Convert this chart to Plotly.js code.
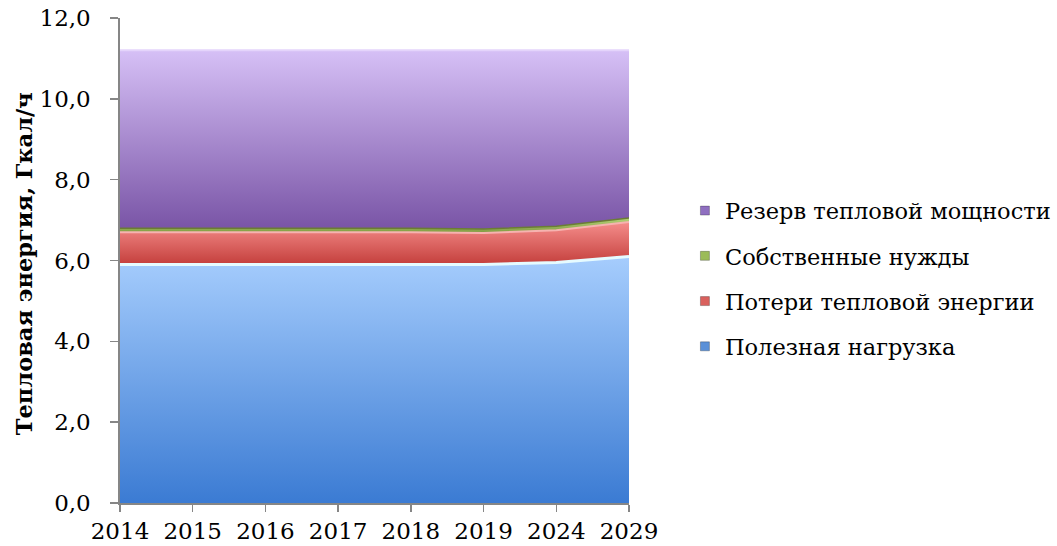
<!DOCTYPE html>
<html>
<head>
<meta charset="utf-8">
<script src="https://cdn.plot.ly/plotly-3.0.1.min.js"></script>
<style>html,body{margin:0;padding:0;background:#fff;}#chart{width:1057px;height:546px;}</style>
</head>
<body>
<div id="chart"></div>
<script>
// Data
const years = ['2014','2015','2016','2017','2018','2019','2024','2029'];
const usefulLoad = [5.9, 5.9, 5.9, 5.9, 5.9, 5.9, 5.95, 6.1];   // Полезная нагрузка
const heatLosses = [0.8, 0.8, 0.8, 0.8, 0.8, 0.78, 0.8, 0.85];  // Потери тепловой энергии
const ownNeeds   = [0.1, 0.1, 0.1, 0.1, 0.1, 0.1, 0.1, 0.1];    // Собственные нужды
const reserve    = [4.4, 4.4, 4.4, 4.4, 4.4, 4.42, 4.35, 4.15]; // Резерв тепловой мощности
const names = ['Полезная нагрузка','Потери тепловой энергии','Собственные нужды','Резерв тепловой мощности'];
const yTicks = [0, 2, 4, 6, 8, 10, 12];
const yTickLabels = ['0,0', '2,0', '4,0', '6,0', '8,0', '10,0', '12,0'];
const yTitle = 'Тепловая энергия, Гкал/ч';

const xIdx = years.map((_, i) => i);
const font = 'DejaVu Serif, Liberation Serif, serif';
// invisible trailing character keeps the labels away from the axis, as in the reference
const pad = '<span style="color:rgba(0,0,0,0)">0</span>';

function area(y, name, cBottom, cTop, lineColor, lineWidth) {
  return {
    type: 'scatter', mode: 'lines', x: xIdx, y: y, name: name,
    stackgroup: 'one', showlegend: false, hoverinfo: 'skip',
    line: {color: lineColor, width: lineWidth, shape: 'linear'},
    fillgradient: {type: 'vertical', colorscale: [[0, cBottom], [1, cTop]]}
  };
}
function legendItem(name, color, grp) {
  return {
    type: 'scatter', mode: 'markers', x: [null], y: [null], name: name,
    legendgroup: grp, showlegend: true,
    marker: {symbol: 'square', size: 9, color: color, line: {color: 'rgba(0,0,0,0.25)', width: 1}}
  };
}

const traces = [
  area(usefulLoad, names[0], '#3b7bd3', '#a6cdfd', '#e6fbff', 3),
  area(heatLosses, names[1], '#c43f3c', '#f58d8b', '#f6b3b0', 2),
  area(ownNeeds, names[2], '#7f9a3f', '#b6d47a', '#6b7d35', 1.5),
  area(reserve, names[3], '#7954a6', '#d6c0f6', '#e4d4fb', 2),
  legendItem(names[3], '#8f6fc0', 'g1'),
  legendItem(names[2], '#9bbb59', 'g2'),
  legendItem(names[1], '#d9605d', 'g3'),
  legendItem(names[0], '#5a90d8', 'g4')
];

const layout = {
  width: 1057, height: 546,
  margin: {l: 120, r: 428, t: 18, b: 43},
  paper_bgcolor: '#ffffff', plot_bgcolor: '#ffffff',
  font: {family: font, size: 23, color: '#000'},
  showlegend: true,
  legend: {
    xref: 'container', yref: 'container',
    x: 0.648, xanchor: 'left', y: 0.49, yanchor: 'middle',
    font: {family: font, size: 22.5, color: '#000'},
    tracegroupgap: 13, traceorder: 'grouped', itemclick: false
  },
  xaxis: {
    range: [0, 7], tickmode: 'array', tickvals: xIdx, ticktext: years,
    showgrid: false, zeroline: false, showline: true, linecolor: '#868686', linewidth: 1.5,
    ticks: 'outside', ticklen: 7, tickcolor: '#868686', tickwidth: 1.5,
    tickfont: {family: font, size: 23, color: '#000'}
  },
  yaxis: {
    range: [0, 12], tickmode: 'array', tickvals: yTicks,
    ticktext: yTickLabels.map(t => t + pad),
    showgrid: true, gridcolor: '#868686', gridwidth: 1.5, zeroline: false,
    showline: true, linecolor: '#868686', linewidth: 2,
    ticks: 'outside', ticklen: 8, tickcolor: '#868686', tickwidth: 1.5,
    tickfont: {family: font, size: 23, color: '#000'}
  },
  annotations: [{
    text: '<b>' + yTitle + '</b>', textangle: -90,
    xref: 'paper', yref: 'paper', x: -0.187, y: 0.494,
    xanchor: 'center', yanchor: 'middle', showarrow: false,
    font: {family: font, size: 22.5, color: '#000'}
  }]
};

Plotly.newPlot('chart', traces, layout, {displayModeBar: false, staticPlot: true});
</script>
</body>
</html>
